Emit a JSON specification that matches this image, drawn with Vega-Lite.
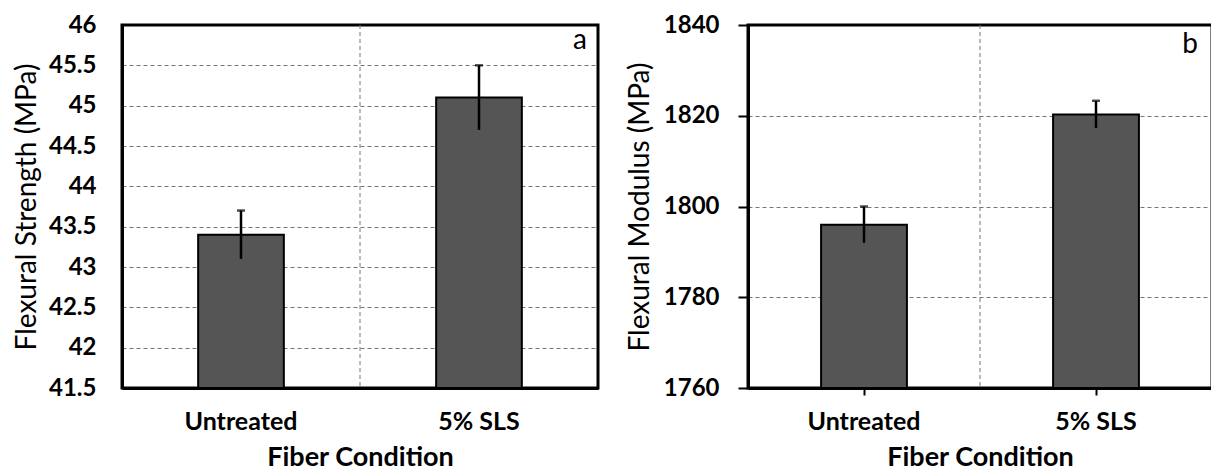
{
  "$schema": "https://vega.github.io/schema/vega-lite/v6.json",
  "background": "white",
  "padding": {"top": 11, "left": 12, "right": 0, "bottom": 0},
  "spacing": 24,
  "config": {
    "font": "Lato",
    "view": {"stroke": "black", "strokeWidth": 3},
    "axis": {
      "labelFont": "Lato", "labelFontWeight": "bold", "labelFontSize": 24, "labelColor": "black",
      "titleFont": "Lato", "titleColor": "black",
      "domainColor": "black", "domainWidth": 3,
      "gridColor": "#777777", "gridDash": [4, 3], "gridWidth": 1,
      "tickColor": "black", "tickWidth": 2
    }
  },
  "datasets": {
    "strength": [
      {"cond": "Untreated", "value": 43.4, "lo": 43.1, "hi": 43.7},
      {"cond": "5% SLS", "value": 45.1, "lo": 44.7, "hi": 45.5}
    ],
    "modulus": [
      {"cond": "Untreated", "value": 1796, "lo": 1792, "hi": 1800},
      {"cond": "5% SLS", "value": 1820.3, "lo": 1817.3, "hi": 1823.3}
    ],
    "divider": [{"cond": "5% SLS"}],
    "tagA": [{"cond": "5% SLS", "y": 45.8, "label": "a"}],
    "tagB": [{"cond": "5% SLS", "y": 1835.6, "label": "b"}]
  },
  "hconcat": [
    {
      "width": 476,
      "height": 363,
      "layer": [
        {
          "data": {"name": "divider"},
          "mark": {"type": "rule", "color": "#777777", "strokeWidth": 1, "strokeDash": [4, 3]},
          "encoding": {
            "x": {
              "field": "cond", "type": "nominal", "sort": ["Untreated", "5% SLS"], "bandPosition": 0,
              "scale": {"paddingInner": 0, "paddingOuter": 0},
              "axis": {"title": "Fiber Condition", "labelAngle": 0, "labelFontSize": 25, "ticks": false, "grid": false, "domain": true, "labelPadding": 21, "titleFontSize": 27, "titleFontWeight": "bold", "titlePadding": 10}
            }
          }
        },
        {
          "data": {"name": "strength"},
          "mark": {"type": "bar", "fill": "#555555", "stroke": "black", "strokeWidth": 2, "width": {"band": 0.36}},
          "encoding": {
            "x": {
              "field": "cond", "type": "nominal", "sort": ["Untreated", "5% SLS"],
              "scale": {"paddingInner": 0, "paddingOuter": 0},
              "axis": {"title": "Fiber Condition", "labelAngle": 0, "labelFontSize": 25, "ticks": false, "grid": false, "domain": true, "labelPadding": 21, "titleFontSize": 27, "titleFontWeight": "bold", "titlePadding": 10}
            },
            "y": {
              "field": "value", "type": "quantitative",
              "scale": {"domain": [41.5, 46], "zero": false, "nice": false},
              "axis": {"title": "Flexural Strength (MPa)", "values": [41.5, 42, 42.5, 43, 43.5, 44, 44.5, 45, 45.5, 46], "format": "~g", "grid": true, "gridOpacity": {"condition": {"test": "datum.value >= 46", "value": 0}, "value": 1}, "ticks": false, "domain": true, "labelPadding": 26, "titleFontSize": 28, "titleFontWeight": "normal", "titlePadding": 7}
            },
            "y2": {"datum": 41.5}
          }
        },
        {
          "data": {"name": "strength"},
          "mark": {"type": "rule", "color": "black", "strokeWidth": 2.5},
          "encoding": {
            "x": {"field": "cond", "type": "nominal", "sort": ["Untreated", "5% SLS"]},
            "y": {"field": "lo", "type": "quantitative", "title": "Flexural Strength (MPa)"},
            "y2": {"field": "hi"}
          }
        },
        {
          "data": {"name": "strength"},
          "mark": {"type": "tick", "color": "black", "thickness": 2.5, "size": 8},
          "encoding": {
            "x": {"field": "cond", "type": "nominal", "sort": ["Untreated", "5% SLS"]},
            "y": {"field": "hi", "type": "quantitative", "title": "Flexural Strength (MPa)"}
          }
        },
        {
          "data": {"name": "tagA"},
          "mark": {"type": "text", "align": "right", "baseline": "middle", "dx": -11, "fontSize": 28, "font": "Lato", "color": "black"},
          "encoding": {
            "x": {"field": "cond", "type": "nominal", "sort": ["Untreated", "5% SLS"], "bandPosition": 1},
            "y": {"field": "y", "type": "quantitative", "title": "Flexural Strength (MPa)"},
            "text": {"field": "label"}
          }
        }
      ]
    },
    {
      "width": 464,
      "height": 363,
      "layer": [
        {
          "data": {"name": "divider"},
          "mark": {"type": "rule", "color": "#777777", "strokeWidth": 1, "strokeDash": [4, 3]},
          "encoding": {
            "x": {
              "field": "cond", "type": "nominal", "sort": ["Untreated", "5% SLS"], "bandPosition": 0,
              "scale": {"paddingInner": 0, "paddingOuter": 0},
              "axis": {"title": "Fiber Condition", "labelAngle": 0, "labelFontSize": 25, "ticks": true, "tickSize": 7, "grid": false, "domain": true, "labelPadding": 14, "titleFontSize": 27, "titleFontWeight": "bold", "titlePadding": 10}
            }
          }
        },
        {
          "data": {"name": "modulus"},
          "mark": {"type": "bar", "fill": "#555555", "stroke": "black", "strokeWidth": 2, "width": {"band": 0.37}},
          "encoding": {
            "x": {
              "field": "cond", "type": "nominal", "sort": ["Untreated", "5% SLS"],
              "scale": {"paddingInner": 0, "paddingOuter": 0},
              "axis": {"title": "Fiber Condition", "labelAngle": 0, "labelFontSize": 25, "ticks": true, "tickSize": 7, "grid": false, "domain": true, "labelPadding": 14, "titleFontSize": 27, "titleFontWeight": "bold", "titlePadding": 10}
            },
            "y": {
              "field": "value", "type": "quantitative",
              "scale": {"domain": [1760, 1840], "zero": false, "nice": false},
              "axis": {"title": "Flexural Modulus (MPa)", "values": [1760, 1780, 1800, 1820, 1840], "format": "d", "grid": true, "gridOpacity": {"condition": {"test": "datum.value >= 1840", "value": 0}, "value": 1}, "ticks": true, "tickSize": 10, "domain": true, "labelPadding": 19, "titleFontSize": 28, "titleFontWeight": "normal", "titlePadding": 9}
            },
            "y2": {"datum": 1760}
          }
        },
        {
          "data": {"name": "modulus"},
          "mark": {"type": "rule", "color": "black", "strokeWidth": 2.5},
          "encoding": {
            "x": {"field": "cond", "type": "nominal", "sort": ["Untreated", "5% SLS"]},
            "y": {"field": "lo", "type": "quantitative", "title": "Flexural Modulus (MPa)"},
            "y2": {"field": "hi"}
          }
        },
        {
          "data": {"name": "modulus"},
          "mark": {"type": "tick", "color": "black", "thickness": 2.5, "size": 8},
          "encoding": {
            "x": {"field": "cond", "type": "nominal", "sort": ["Untreated", "5% SLS"]},
            "y": {"field": "hi", "type": "quantitative", "title": "Flexural Modulus (MPa)"}
          }
        },
        {
          "data": {"name": "tagB"},
          "mark": {"type": "text", "align": "right", "baseline": "middle", "dx": -14, "fontSize": 28, "font": "Lato", "color": "black"},
          "encoding": {
            "x": {"field": "cond", "type": "nominal", "sort": ["Untreated", "5% SLS"], "bandPosition": 1},
            "y": {"field": "y", "type": "quantitative", "title": "Flexural Modulus (MPa)"},
            "text": {"field": "label"}
          }
        }
      ]
    }
  ]
}
